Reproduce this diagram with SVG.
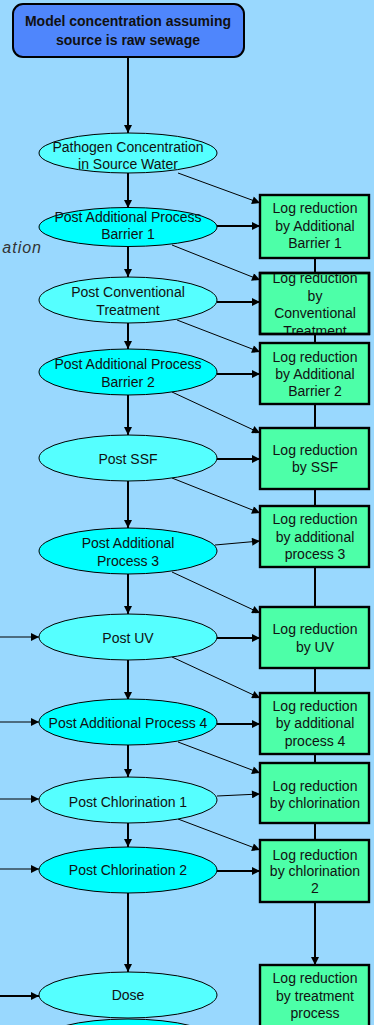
<svg xmlns="http://www.w3.org/2000/svg" width="374" height="1025" viewBox="0 0 374 1025">
  <defs>
    <style>
      .bg { fill: #99d8fe; }
      .start { fill: #4f86fc; stroke: #000; stroke-width: 2; }
      .ell { stroke: #000; stroke-width: 1; }
      .lt { fill: #55ffff; }
      .dk { fill: #00ffff; }
      .box { fill: #4dffa8; stroke: #000; stroke-width: 2.4; }
      text { font-family: "Liberation Sans", Arial, sans-serif; font-size: 14px; fill: #111; text-anchor: middle; }
      .bold { font-weight: bold; font-size: 14px; }
      .ital { font-style: italic; fill: #333; text-anchor: end; font-size: 16px; letter-spacing: 1px; }
      .thick { stroke: #000; stroke-width: 2; fill: none; }
      .thin { stroke: #000; stroke-width: 1; fill: none; }
    </style>
    <marker id="ah" viewBox="0 0 10 10" refX="10" refY="5" markerWidth="9" markerHeight="8" markerUnits="userSpaceOnUse" orient="auto">
      <path d="M0,0 L10,5 L0,10 Z" fill="#000"/>
    </marker>
    <clipPath id="clipB2">
      <rect x="260" y="273" width="109" height="61"/>
    </clipPath>
  </defs>

  <rect class="bg" x="0" y="0" width="374" height="1025"/>

  <text class="ital" x="42" y="253">ation</text>

  <!-- connectors -->
  <g id="connectors">
    <!-- main chain -->
    <line class="thick" x1="128" y1="57" x2="128" y2="133" marker-end="url(#ah)"/>
    <line class="thick" x1="128" y1="173" x2="128" y2="208" marker-end="url(#ah)"/>
    <line class="thick" x1="128" y1="246" x2="128" y2="277" marker-end="url(#ah)"/>
    <line class="thick" x1="128" y1="323" x2="128" y2="349" marker-end="url(#ah)"/>
    <line class="thick" x1="128" y1="395" x2="128" y2="435" marker-end="url(#ah)"/>
    <line class="thick" x1="128" y1="481" x2="128" y2="528" marker-end="url(#ah)"/>
    <line class="thick" x1="128" y1="574" x2="128" y2="614" marker-end="url(#ah)"/>
    <line class="thick" x1="128" y1="660" x2="128" y2="700" marker-end="url(#ah)"/>
    <line class="thick" x1="128" y1="745" x2="128" y2="777" marker-end="url(#ah)"/>
    <line class="thick" x1="128" y1="823" x2="128" y2="847" marker-end="url(#ah)"/>
    <line class="thick" x1="128" y1="893" x2="128" y2="972" marker-end="url(#ah)"/>

    <!-- stage to log reduction -->
    <line class="thick" x1="217" y1="226" x2="260" y2="226" marker-end="url(#ah)"/>
    <line class="thick" x1="217" y1="302" x2="260" y2="302" marker-end="url(#ah)"/>
    <line class="thick" x1="217" y1="374" x2="260" y2="374" marker-end="url(#ah)"/>
    <line class="thick" x1="217" y1="459" x2="260" y2="459" marker-end="url(#ah)"/>
    <line class="thin" x1="215" y1="545" x2="260" y2="541" marker-end="url(#ah)"/>
    <line class="thick" x1="217" y1="638" x2="260" y2="638" marker-end="url(#ah)"/>
    <line class="thick" x1="217" y1="724" x2="260" y2="724" marker-end="url(#ah)"/>
    <line class="thin" x1="217" y1="796" x2="260" y2="794" marker-end="url(#ah)"/>
    <line class="thick" x1="217" y1="871" x2="260" y2="871" marker-end="url(#ah)"/>

    <!-- stage to next log reduction -->
    <line class="thin" x1="178" y1="173" x2="260" y2="203" marker-end="url(#ah)"/>
    <line class="thin" x1="172" y1="245" x2="260" y2="280" marker-end="url(#ah)"/>
    <line class="thin" x1="177" y1="320" x2="260" y2="352" marker-end="url(#ah)"/>
    <line class="thin" x1="172" y1="392" x2="260" y2="433" marker-end="url(#ah)"/>
    <line class="thin" x1="172" y1="478" x2="260" y2="513" marker-end="url(#ah)"/>
    <line class="thin" x1="172" y1="572" x2="260" y2="613" marker-end="url(#ah)"/>
    <line class="thin" x1="172" y1="657" x2="260" y2="698" marker-end="url(#ah)"/>
    <line class="thin" x1="178" y1="742" x2="260" y2="773" marker-end="url(#ah)"/>
    <line class="thin" x1="178" y1="819" x2="260" y2="850" marker-end="url(#ah)"/>

    <!-- log reduction chain -->
    <line class="thick" x1="315" y1="258" x2="315" y2="273"/>
    <line class="thick" x1="315" y1="334" x2="315" y2="343"/>
    <line class="thick" x1="315" y1="404" x2="315" y2="428"/>
    <line class="thick" x1="315" y1="489" x2="315" y2="506"/>
    <line class="thick" x1="315" y1="567" x2="315" y2="607"/>
    <line class="thick" x1="315" y1="668" x2="315" y2="693"/>
    <line class="thick" x1="315" y1="754" x2="315" y2="763"/>
    <line class="thick" x1="315" y1="823" x2="315" y2="840"/>
    <line class="thick" x1="315" y1="902" x2="315" y2="965" marker-end="url(#ah)"/>

    <!-- inputs from the left -->
    <line class="thin" x1="0" y1="637" x2="39" y2="637" marker-end="url(#ah)"/>
    <line class="thin" x1="0" y1="722" x2="39" y2="722" marker-end="url(#ah)"/>
    <line class="thin" x1="0" y1="799" x2="39" y2="799" marker-end="url(#ah)"/>
    <line class="thin" x1="0" y1="869" x2="39" y2="869" marker-end="url(#ah)"/>
    <line class="thick" x1="0" y1="996" x2="39" y2="996" marker-end="url(#ah)"/>
  </g>

  <!-- start node -->
  <g id="start">
    <rect class="start" x="13" y="4" width="231" height="53" rx="10"/>
    <text class="bold" x="128" y="26">Model concentration assuming</text>
    <text class="bold" x="128" y="45">source is raw sewage</text>
  </g>

  <!-- concentration stages -->
  <g id="source">
    <ellipse class="ell lt" cx="128" cy="153" rx="89" ry="20"/>
    <text x="128" y="152">Pathogen Concentration</text>
    <text x="128" y="169">in Source Water</text>
  </g>
  <g id="barrier1">
    <ellipse class="ell dk" cx="128" cy="227" rx="89" ry="19.5"/>
    <text x="128" y="222">Post Additional Process</text>
    <text x="128" y="239">Barrier 1</text>
  </g>
  <g id="conventional">
    <ellipse class="ell lt" cx="128" cy="300" rx="89" ry="23"/>
    <text x="128" y="297">Post Conventional</text>
    <text x="128" y="315">Treatment</text>
  </g>
  <g id="barrier2">
    <ellipse class="ell dk" cx="128" cy="372" rx="89" ry="23"/>
    <text x="128" y="369">Post Additional Process</text>
    <text x="128" y="387">Barrier 2</text>
  </g>
  <g id="ssf">
    <ellipse class="ell lt" cx="128" cy="458" rx="89" ry="23"/>
    <text x="128" y="464">Post SSF</text>
  </g>
  <g id="process3">
    <ellipse class="ell dk" cx="128" cy="551" rx="89" ry="23"/>
    <text x="128" y="548">Post Additional</text>
    <text x="128" y="566">Process 3</text>
  </g>
  <g id="uv">
    <ellipse class="ell lt" cx="128" cy="637" rx="89" ry="23"/>
    <text x="128" y="643">Post UV</text>
  </g>
  <g id="process4">
    <ellipse class="ell dk" cx="128" cy="722" rx="89" ry="23"/>
    <text x="128" y="728">Post Additional Process 4</text>
  </g>
  <g id="chlor1">
    <ellipse class="ell lt" cx="128" cy="800" rx="89" ry="23"/>
    <text x="128" y="807">Post Chlorination 1</text>
  </g>
  <g id="chlor2">
    <ellipse class="ell dk" cx="128" cy="870" rx="89" ry="23"/>
    <text x="128" y="875">Post Chlorination 2</text>
  </g>
  <g id="dose">
    <ellipse class="ell lt" cx="128" cy="995" rx="89" ry="23"/>
    <text x="128" y="1000">Dose</text>
  </g>
  <g id="next">
    <ellipse class="ell dk" cx="128" cy="1042" rx="89" ry="23"/>
  </g>

  <!-- log reduction steps -->
  <g id="lr-barrier1">
    <rect class="box" x="260" y="195" width="109" height="63"/>
    <text x="315" y="213">Log reduction</text>
    <text x="315" y="231">by Additional</text>
    <text x="315" y="248">Barrier 1</text>
  </g>
  <g id="lr-conventional">
    <rect class="box" x="260" y="273" width="109" height="61"/>
    <g clip-path="url(#clipB2)">
      <text x="315" y="283">Log reduction</text>
      <text x="315" y="301">by</text>
      <text x="315" y="318">Conventional</text>
      <text x="315" y="336">Treatment</text>
    </g>
    <rect x="260" y="273" width="109" height="61" fill="none" stroke="#000" stroke-width="2.4"/>
  </g>
  <g id="lr-barrier2">
    <rect class="box" x="260" y="343" width="109" height="61"/>
    <text x="315" y="362">Log reduction</text>
    <text x="315" y="379">by Additional</text>
    <text x="315" y="396">Barrier 2</text>
  </g>
  <g id="lr-ssf">
    <rect class="box" x="260" y="428" width="109" height="61"/>
    <text x="315" y="455">Log reduction</text>
    <text x="315" y="472">by SSF</text>
  </g>
  <g id="lr-process3">
    <rect class="box" x="260" y="506" width="109" height="61"/>
    <text x="315" y="524">Log reduction</text>
    <text x="315" y="542">by additional</text>
    <text x="315" y="559">process 3</text>
  </g>
  <g id="lr-uv">
    <rect class="box" x="260" y="607" width="109" height="61"/>
    <text x="315" y="634">Log reduction</text>
    <text x="315" y="652">by UV</text>
  </g>
  <g id="lr-process4">
    <rect class="box" x="260" y="693" width="109" height="61"/>
    <text x="315" y="711">Log reduction</text>
    <text x="315" y="728">by additional</text>
    <text x="315" y="746">process 4</text>
  </g>
  <g id="lr-chlor1">
    <rect class="box" x="260" y="763" width="109" height="60"/>
    <text x="315" y="791">Log reduction</text>
    <text x="315" y="808">by chlorination</text>
  </g>
  <g id="lr-chlor2">
    <rect class="box" x="260" y="840" width="109" height="62"/>
    <text x="315" y="860">Log reduction</text>
    <text x="315" y="876">by chlorination</text>
    <text x="315" y="893">2</text>
  </g>
  <g id="lr-total">
    <rect class="box" x="260" y="965" width="109" height="70"/>
    <text x="315" y="983">Log reduction</text>
    <text x="315" y="1001">by treatment</text>
    <text x="315" y="1018">process</text>
  </g>
</svg>
